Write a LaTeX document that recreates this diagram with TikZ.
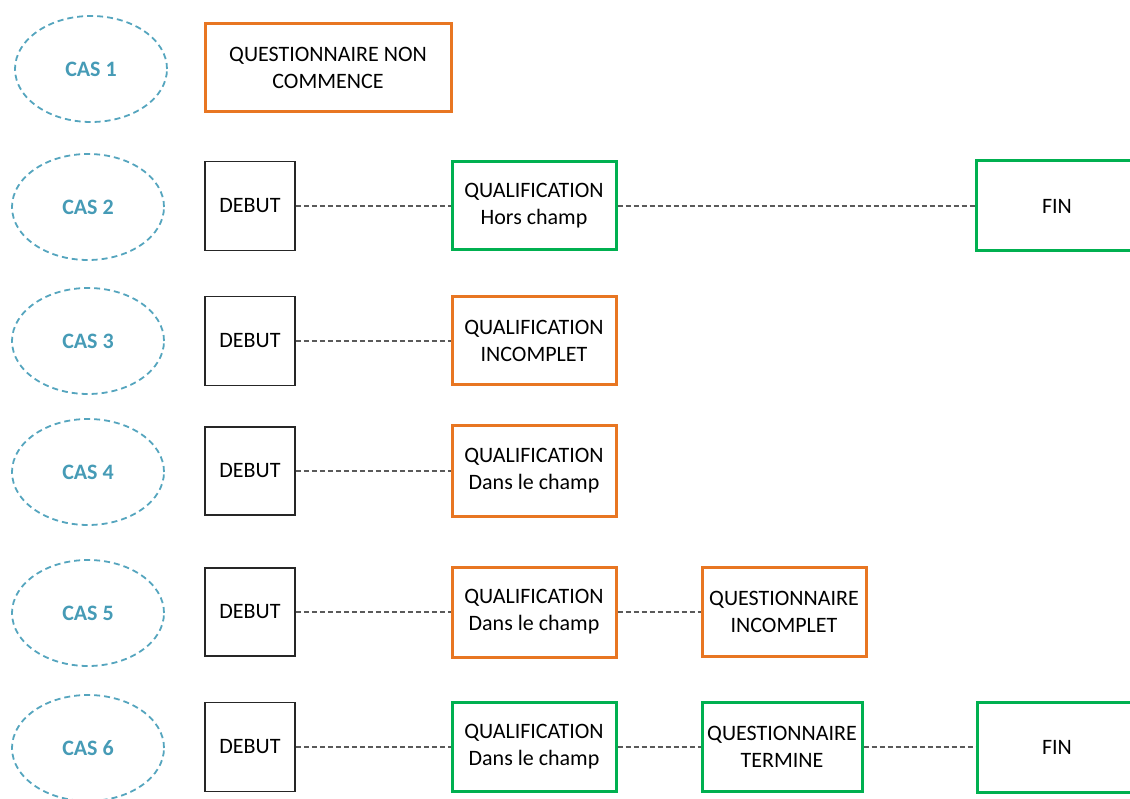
\documentclass[tikz,border=0pt]{standalone}
\usepackage{fontspec}
\setmainfont{Carlito}
\usetikzlibrary{shapes.geometric}

\definecolor{casblue}{RGB}{85,165,190}
\definecolor{castext}{RGB}{70,155,182}
\definecolor{orangebox}{RGB}{232,118,34}
\definecolor{greenbox}{RGB}{0,176,80}
\definecolor{linkgray}{RGB}{90,90,90}

\begin{document}
\begin{tikzpicture}[x=1pt, y=-1pt,
    every node/.style={font=\fontsize{22}{27}\selectfont, align=center, inner sep=0pt},
    cas/.style={ellipse, draw=casblue, line width=1.8pt, dash pattern=on 6pt off 4pt,
        minimum width=152pt, minimum height=106pt, text=castext, font=\fontsize{22}{27}\selectfont\bfseries},
    debutbox/.style={draw=black!85, line width=1.7pt, minimum width=90pt, minimum height=89pt},
    orangestep/.style={draw=orangebox, line width=3pt, minimum width=164pt, minimum height=89pt},
    greenstep/.style={draw=greenbox, line width=3pt, minimum width=164pt, minimum height=89pt},
    link/.style={draw=linkgray, line width=1.8pt, dash pattern=on 5pt off 3pt}]
				\useasboundingbox (0,0) rectangle (1130,799);

				% Cases
				\node[cas] (cas1) at (91,69) {CAS 1};
				\node[cas] (cas2) at (88,207) {CAS 2};
				\node[cas] (cas3) at (88,341) {CAS 3};
				\node[cas] (cas4) at (88,472) {CAS 4};
				\node[cas] (cas5) at (88,613) {CAS 5};
				\node[cas] (cas6) at (88,748) {CAS 6};

				% Case 1
				\node[orangestep, minimum width=246pt, minimum height=88pt] (nc1) at (328,68) {QUESTIONNAIRE NON\\COMMENCE};

				% Case 2
				\node[debutbox] (d2) at (250,206) {DEBUT};
				\node[greenstep, minimum height=88pt] (q2) at (534,206) {QUALIFICATION\\Hors champ};
				\node[greenstep, minimum width=162pt, minimum height=90pt] (f2) at (1057,206) {FIN};

				% Case 3
				\node[debutbox] (d3) at (250,341) {DEBUT};
				\node[orangestep, minimum height=88pt] (q3) at (534,341) {QUALIFICATION\\INCOMPLET};

				% Case 4
				\node[debutbox, minimum height=88pt] (d4) at (250,471) {DEBUT};
				\node[orangestep, minimum height=90pt] (q4) at (534,471) {QUALIFICATION\\Dans le champ};

				% Case 5
				\node[debutbox, minimum height=88pt] (d5) at (250,612) {DEBUT};
				\node[orangestep, minimum height=90pt] (q5) at (534,612) {QUALIFICATION\\Dans le champ};
				\node[orangestep] (qi5) at (784,612) {QUESTIONNAIRE\\INCOMPLET};

				% Case 6
				\node[debutbox] (d6) at (250,747) {DEBUT};
				\node[greenstep] (q6) at (534,747) {QUALIFICATION\\Dans le champ};
				\node[greenstep, minimum width=160pt] (qt6) at (782,747) {QUESTIONNAIRE\\TERMINE};
				\node[greenstep, minimum width=160pt, minimum height=90pt] (f6) at (1057,747) {FIN};

				% Links
				\path[link] (d2) -- (q2);
				\path[link] (q2) -- (f2);
				\path[link] (d3) -- (q3);
				\path[link] (d4) -- (q4);
				\path[link] (d5) -- (q5);
				\path[link] (q5) -- (qi5);
				\path[link] (d6) -- (q6);
				\path[link] (q6) -- (qt6);
				\path[link] (qt6) -- (f6);
			\end{tikzpicture}
\end{document}
